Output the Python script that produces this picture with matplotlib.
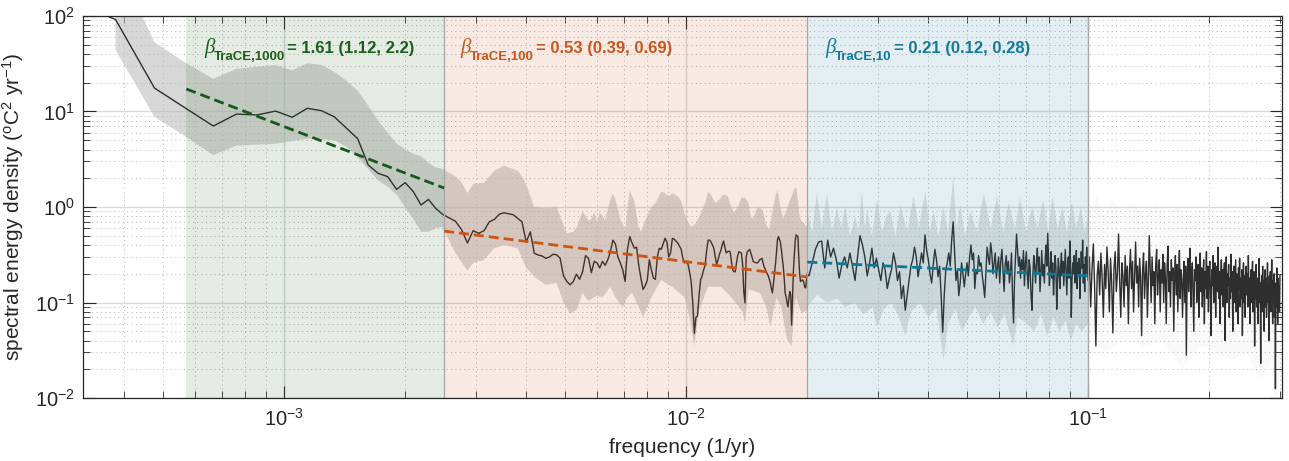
import numpy as np
import matplotlib
matplotlib.use("Agg")
import matplotlib.pyplot as plt
from matplotlib.ticker import LogLocator, NullFormatter

plt.rcParams['font.family'] = ['Liberation Sans', 'DejaVu Sans']
plt.rcParams['mathtext.fontset'] = 'custom'
plt.rcParams['mathtext.rm'] = 'Liberation Sans'
plt.rcParams['mathtext.it'] = 'Liberation Sans:italic'
plt.rcParams['mathtext.bf'] = 'Liberation Sans:bold'

# ---------------- data ----------------
N_YEARS = 10500          # record length -> frequency step 1/N_YEARS

# spectrum, frequency index k = 3 .. 210
psd_lo = [
    150, 92, 17.6, 10.7, 7.05, 9.4, 9.2, 10.1, 8.7, 10.8,
    10.2, 8.8, 6.7, 5.2, 2.75, 2.25, 2.08, 1.53, 1.8, 1.45,
    1.05, 1.2, 0.97, 0.84, 0.77, 0.71, 0.58, 0.42, 0.565, 0.53,
    0.565, 0.70, 0.74, 0.84, 0.87, 0.85, 0.83, 0.76, 0.70, 0.43,
    0.55, 0.327, 0.314, 0.307, 0.29, 0.30, 0.32, 0.316, 0.29, 0.19,
    0.166, 0.153, 0.166, 0.198, 0.175, 0.21, 0.31, 0.29, 0.205, 0.27,
    0.26, 0.23, 0.27, 0.245, 0.28, 0.34, 0.45, 0.41, 0.30, 0.26,
    0.22, 0.166, 0.36, 0.49, 0.42, 0.37, 0.38, 0.245, 0.18, 0.137,
    0.15, 0.17, 0.28, 0.22, 0.18, 0.175, 0.30, 0.37, 0.36, 0.41,
    0.47, 0.43, 0.30, 0.33, 0.47, 0.46, 0.44, 0.42, 0.39, 0.36,
    0.29, 0.259, 0.266, 0.255, 0.21, 0.166, 0.10, 0.0475, 0.07, 0.072,
    0.12, 0.172, 0.19, 0.22, 0.245, 0.35, 0.45, 0.45, 0.43, 0.40,
    0.37, 0.30, 0.25, 0.28, 0.32, 0.35, 0.40, 0.44, 0.38, 0.33,
    0.34, 0.345, 0.34, 0.27, 0.22, 0.21, 0.21, 0.26, 0.31, 0.34,
    0.335, 0.33, 0.25, 0.13, 0.099, 0.30, 0.34, 0.35, 0.36, 0.33,
    0.30, 0.27, 0.265, 0.262, 0.26, 0.26, 0.27, 0.28, 0.285, 0.29,
    0.26, 0.235, 0.225, 0.21, 0.20, 0.19, 0.175, 0.16, 0.14, 0.126,
    0.16, 0.20, 0.25, 0.33, 0.45, 0.49, 0.46, 0.43, 0.36, 0.29,
    0.24, 0.18, 0.125, 0.115, 0.10, 0.09, 0.11, 0.13, 0.12, 0.058,
    0.11, 0.22, 0.32, 0.45, 0.51, 0.50, 0.49, 0.30, 0.20, 0.166,
    0.17, 0.172, 0.17, 0.16, 0.145, 0.142, 0.17, 0.20,
]
K_LO_START = 3

# spectrum, k = 212 .. 1048 every 4th index
psd_blue = [
    0.19, 0.26, 0.36, 0.43, 0.44, 0.23, 0.45, 0.30, 0.37, 0.28,
    0.18, 0.25, 0.30, 0.23, 0.33, 0.24, 0.17, 0.30, 0.50, 0.40,
    0.30, 0.19, 0.26, 0.37, 0.23, 0.29, 0.22, 0.17, 0.26, 0.22,
    0.14, 0.18, 0.22, 0.33, 0.26, 0.17, 0.21, 0.11, 0.15, 0.083,
    0.12, 0.17, 0.24, 0.28, 0.38, 0.30, 0.186, 0.25, 0.33, 0.26,
    0.51, 0.35, 0.28, 0.20, 0.16, 0.25, 0.36, 0.28, 0.186, 0.24,
    0.118, 0.049, 0.12, 0.216, 0.26, 0.33, 0.24, 0.45, 0.70, 0.35,
    0.17, 0.22, 0.118, 0.16, 0.26, 0.20, 0.146, 0.20, 0.26, 0.19,
    0.30, 0.40, 0.28, 0.33, 0.14, 0.22, 0.20, 0.31, 0.24, 0.26,
    0.19, 0.15, 0.113, 0.21, 0.38, 0.30, 0.25, 0.42, 0.33, 0.20,
    0.26, 0.33, 0.18, 0.24, 0.30, 0.16, 0.28, 0.36, 0.22, 0.13,
    0.25, 0.31, 0.20, 0.27, 0.16, 0.21, 0.33, 0.12, 0.061, 0.18,
    0.30, 0.52, 0.36, 0.24, 0.30, 0.18, 0.28, 0.22, 0.35, 0.15,
    0.26, 0.34, 0.20, 0.14, 0.28, 0.23, 0.12, 0.083, 0.19, 0.31,
    0.24, 0.16, 0.27, 0.37, 0.21, 0.30, 0.13, 0.22, 0.35, 0.19,
    0.25, 0.16, 0.29, 0.40, 0.24, 0.53, 0.28, 0.15, 0.22, 0.34,
    0.18, 0.26, 0.12, 0.20, 0.31, 0.23, 0.085, 0.17, 0.29, 0.21,
    0.14, 0.25, 0.33, 0.19, 0.27, 0.15, 0.23, 0.36, 0.20, 0.12,
    0.24, 0.30, 0.18, 0.44, 0.27, 0.07, 0.17, 0.26, 0.20, 0.31,
    0.16, 0.22, 0.35, 0.14, 0.26, 0.19, 0.29, 0.11, 0.21, 0.34,
    0.23, 0.45, 0.16, 0.25, 0.13, 0.30, 0.20, 0.38, 0.24, 0.17,
]
K_BLUE_START, K_BLUE_STEP = 212, 4

# spectrum, k = 1056 .. 3144 every 8th index
psd_white = [
    0.30, 0.09, 0.22, 0.41, 0.15, 0.035, 0.19, 0.27, 0.12, 0.33,
    0.18, 0.07, 0.25, 0.14, 0.38, 0.21, 0.08, 0.29, 0.16, 0.048,
    0.23, 0.34, 0.13, 0.20, 0.52, 0.17, 0.07, 0.26, 0.19, 0.09,
    0.31, 0.15, 0.24, 0.06, 0.21, 0.36, 0.14, 0.27, 0.08, 0.19,
    0.43, 0.16, 0.24, 0.09, 0.29, 0.18, 0.045, 0.22, 0.33, 0.11,
    0.20, 0.27, 0.07, 0.17, 0.50, 0.23, 0.10, 0.30, 0.15, 0.21,
    0.06, 0.25, 0.36, 0.12, 0.19, 0.28, 0.08, 0.22, 0.16, 0.32,
    0.10, 0.26, 0.18, 0.06, 0.24, 0.39, 0.13, 0.21, 0.09, 0.28,
    0.17, 0.23, 0.05, 0.19, 0.31, 0.12, 0.25, 0.08, 0.20, 0.35,
    0.11, 0.22, 0.18, 0.07, 0.16, 0.27, 0.10, 0.24, 0.028, 0.19,
    0.29, 0.13, 0.21, 0.37, 0.09, 0.18, 0.26, 0.12, 0.05, 0.22,
    0.17, 0.30, 0.10, 0.20, 0.25, 0.07, 0.19, 0.33, 0.13, 0.23,
    0.09, 0.18, 0.28, 0.06, 0.21, 0.14, 0.34, 0.11, 0.24, 0.08,
    0.19, 0.27, 0.12, 0.045, 0.22, 0.15, 0.31, 0.10, 0.20, 0.26,
    0.07, 0.18, 0.24, 0.13, 0.38, 0.11, 0.21, 0.06, 0.17, 0.28,
    0.12, 0.22, 0.09, 0.19, 0.26, 0.04, 0.16, 0.30, 0.10, 0.20,
    0.15, 0.25, 0.07, 0.18, 0.11, 0.32, 0.13, 0.21, 0.05, 0.19,
    0.24, 0.10, 0.17, 0.28, 0.08, 0.20, 0.12, 0.06, 0.23, 0.14,
    0.29, 0.09, 0.18, 0.11, 0.22, 0.045, 0.15, 0.26, 0.10, 0.19,
    0.07, 0.17, 0.24, 0.12, 0.20, 0.09, 0.31, 0.11, 0.18, 0.06,
    0.16, 0.22, 0.10, 0.19, 0.27, 0.08, 0.15, 0.21, 0.035, 0.17,
    0.11, 0.25, 0.09, 0.18, 0.12, 0.06, 0.20, 0.29, 0.10, 0.16,
    0.023, 0.14, 0.19, 0.08, 0.24, 0.11, 0.17, 0.05, 0.15, 0.22,
    0.09, 0.18, 0.07, 0.14, 0.26, 0.10, 0.16, 0.04, 0.19, 0.11,
    0.21, 0.08, 0.15, 0.28, 0.10, 0.06, 0.17, 0.11, 0.20, 0.07,
    0.14, 0.0125, 0.16, 0.09, 0.23, 0.11, 0.06, 0.18, 0.10, 0.15,
    0.08, 0.19,
]
K_WHITE_START, K_WHITE_STEP = 1056, 8

# confidence band (frequency index k, value)
band_lo_upper_k = [4, 5, 6, 7, 8, 10, 11, 12, 13, 14, 15, 16, 17, 18, 19, 20, 21, 22, 23, 24,
                   25, 26, 28, 29, 30, 31, 33, 35, 37, 40, 41, 42, 43, 44, 47, 50, 51, 53, 55, 56,
                   58, 60, 61, 62, 63, 64, 66, 68, 69, 70, 72, 74, 76, 78, 80, 81, 83, 86, 88, 91,
                   93, 95, 97, 100, 102, 104, 106, 108, 110, 113, 117, 119, 121, 124, 127, 130, 133, 136, 138, 141,
                   144, 147, 150, 152, 154, 157, 160, 163, 166, 169, 172, 175, 177, 180, 183, 186, 189, 192, 195, 197,
                   199, 201, 203, 206, 208, 210]
band_lo_upper = [400, 53, 32, 22, 28, 30.7, 27, 32, 30.7, 26, 21, 16.5, 11.5, 8.0, 6.0, 4.6, 4.0, 3.6, 3.4, 2.9,
                 2.6, 2.5, 2.1, 1.8, 1.4, 1.75, 1.8, 2.4, 2.7, 2.4, 2.1, 1.7, 1.3, 1.0, 0.97, 1.0, 0.8, 0.53, 0.55, 0.60,
                 0.90, 0.72, 0.75, 0.88, 0.70, 0.88, 0.73, 1.2, 1.39, 1.2, 0.75, 0.58, 1.5, 1.15, 0.6, 0.55, 0.72, 1.0, 1.1, 1.45,
                 1.4, 1.3, 1.39, 1.3, 1.15, 0.85, 0.70, 0.62, 0.65, 0.78, 1.1, 1.45, 1.35, 1.1, 1.2, 1.35, 1.3, 1.0, 0.88, 1.0,
                 1.25, 1.25, 1.1, 0.8, 0.75, 0.95, 1.0, 0.9, 0.65, 0.58, 0.9, 1.3, 1.5, 1.0, 0.75, 0.9, 1.1, 1.3, 1.55, 1.6,
                 1.2, 0.8, 0.72, 0.68, 0.64, 0.62]
band_lo_lower_k = [4, 5, 6, 7, 8, 10, 11, 12, 13, 14, 15, 16, 17, 18, 19, 20, 21, 22, 23, 24,
                   25, 26, 28, 30, 31, 33, 35, 37, 40, 42, 44, 47, 50, 52, 54, 56, 58, 60, 63, 65,
                   68, 70, 73, 75, 77, 80, 82, 86, 91, 97, 104, 107, 110, 113, 119, 128, 136, 145, 147, 150,
                   160, 166, 170, 176, 181, 187, 192, 195, 197, 203, 210]
band_lo_lower = [44, 8.8, 5.4, 3.5, 4.4, 4.6, 4.9, 5.2, 5.1, 5.0, 4.3, 3.3, 2.5, 1.9, 1.63, 1.35, 1.0, 0.75, 0.55, 0.55,
                 0.6, 0.62, 0.33, 0.216, 0.26, 0.28, 0.37, 0.40, 0.37, 0.23, 0.186, 0.153, 0.16, 0.10, 0.077, 0.083, 0.126, 0.104, 0.118, 0.113,
                 0.146, 0.113, 0.09, 0.113, 0.126, 0.09, 0.07, 0.113, 0.172, 0.146, 0.113, 0.07, 0.035, 0.083, 0.146, 0.146, 0.113, 0.08, 0.06, 0.137,
                 0.126, 0.09, 0.056, 0.113, 0.09, 0.041, 0.035, 0.09, 0.113, 0.077, 0.083]

band_mid_upper_k = [210, 216, 222, 228, 235, 242, 249, 255, 261, 268, 276, 282, 287, 292, 296, 304, 313, 322, 330, 338,
                    348, 358, 372, 386, 398, 413, 423, 433, 445, 458, 470, 484, 494, 504, 518, 534, 555, 577, 600, 623,
                    645, 665, 690, 710, 735, 760, 785, 810, 835, 855, 880, 905, 930, 955, 980, 1005, 1030, 1050]
band_mid_upper = [0.9, 0.55, 1.4, 0.6, 1.4, 0.55, 1.0, 0.6, 1.05, 0.5, 0.8, 0.55, 1.5, 0.6, 0.95, 0.5, 1.2, 0.55, 0.8, 0.9,
                  0.5, 1.05, 0.55, 1.3, 0.6, 1.5, 0.55, 0.9, 0.5, 1.0, 0.55, 2.05, 0.6, 1.05, 0.5, 0.9, 0.55, 1.4, 0.6, 1.3,
                  0.55, 1.1, 0.6, 1.25, 0.55, 1.0, 0.6, 1.2, 0.55, 1.3, 0.6, 1.0, 0.55, 1.15, 0.6, 1.0, 0.55, 0.9]
band_mid_lower_k = [210, 222, 235, 249, 261, 275, 290, 305, 313, 325, 340, 355, 368, 380, 400, 420, 440, 458, 470, 490,
                    510, 530, 550, 575, 600, 625, 650, 683, 700, 740, 770, 800, 830, 860, 890, 920, 950, 980, 1010, 1050]
band_mid_lower = [0.09, 0.12, 0.10, 0.11, 0.09, 0.10, 0.075, 0.09, 0.055, 0.085, 0.10, 0.07, 0.045, 0.08, 0.10, 0.07, 0.09, 0.025, 0.06, 0.085,
                  0.05, 0.07, 0.09, 0.06, 0.08, 0.055, 0.075, 0.035, 0.07, 0.06, 0.05, 0.075, 0.045, 0.07, 0.05, 0.065, 0.04, 0.06, 0.05, 0.06]

band_hi_upper_k = [1050, 1100, 1150, 1200, 1280, 1350, 1450, 1550, 1650, 1750, 1850, 2000, 2150, 2300, 2500, 2700, 2900, 3150]
band_hi_upper = [0.9, 1.3, 0.8, 1.2, 0.85, 1.1, 0.8, 1.05, 0.75, 1.0, 0.8, 0.95, 0.7, 0.85, 0.65, 0.8, 0.6, 0.65]
band_hi_lower_k = [1050, 1150, 1300, 1450, 1600, 1800, 2000, 2200, 2400, 2600, 2816, 3000, 3064, 3150]
band_hi_lower = [0.05, 0.03, 0.04, 0.035, 0.04, 0.02, 0.035, 0.03, 0.025, 0.03, 0.015, 0.025, 0.008, 0.02]

# scaling regimes and power-law fits
region_edges = [6 / N_YEARS, 2.5e-3, 0.02, 0.1]
fit_green_f, fit_green_v = [6 / N_YEARS, 2.5e-3], [17.2, 1.58]
fit_orange_f, fit_orange_v = [2.5e-3, 0.02], [0.56, 0.185]
fit_blue_f, fit_blue_v = [0.02, 0.1], [0.265, 0.19]
labels_sub = ['TraCE,1000', 'TraCE,100', 'TraCE,10']
labels_rest = ['= 1.61 (1.12, 2.2)', '= 0.53 (0.39, 0.69)', '= 0.21 (0.12, 0.28)']

GREEN, ORANGE, BLUE = '#1a5e1a', '#c8561a', '#137a9a'
GREEN_D, ORANGE_D, BLUE_D = '#17581a', '#cc5510', '#0e7896'

# ---------------- figure ----------------
W, H = 1289, 461
fig = plt.figure(figsize=(W / 100, H / 100), dpi=100)
ax = fig.add_axes([83 / W, (H - 398) / H, (1282 - 83) / W, (398 - 16) / H])

k_lo = np.arange(K_LO_START, K_LO_START + len(psd_lo))
k_blue = K_BLUE_START + K_BLUE_STEP * np.arange(len(psd_blue))
k_white = K_WHITE_START + K_WHITE_STEP * np.arange(len(psd_white))
freq = np.concatenate([k_lo, k_blue, k_white]) / N_YEARS
psd = np.concatenate([psd_lo, psd_blue, psd_white])


def band(uk, uv, lk, lv, alpha):
    xs = np.concatenate([np.asarray(uk, float), np.asarray(lk, float)[::-1]]) / N_YEARS
    ys = np.concatenate([np.asarray(uv, float), np.asarray(lv, float)[::-1]])
    ax.fill(xs, ys, color='#bdbdbd', alpha=alpha, lw=0, zorder=1)


band(band_lo_upper_k, band_lo_upper, band_lo_lower_k, band_lo_lower, 0.6)
band(band_mid_upper_k, band_mid_upper, band_mid_lower_k, band_mid_lower, 0.42)
band(band_hi_upper_k, band_hi_upper, band_hi_lower_k, band_hi_lower, 0.08)

ax.plot(freq, psd, color='#2e2e2e', lw=1.0, zorder=2)

for (a, b), c in zip(zip(region_edges[:-1], region_edges[1:]), [GREEN, ORANGE, BLUE]):
    ax.axvspan(a, b, color=c, alpha=0.12, lw=0, zorder=3)
for xv in region_edges[1:]:
    ax.axvline(xv, color='#a6a6a6', lw=0.9, zorder=3.5)

dash = (0, (3.6, 1.8))
ax.plot(fit_green_f, fit_green_v, ls=dash, lw=2.0, color=GREEN_D, zorder=4)
ax.plot(fit_orange_f, fit_orange_v, ls=dash, lw=2.0, color=ORANGE_D, zorder=4)
ax.plot(fit_blue_f, fit_blue_v, ls=dash, lw=2.0, color=BLUE_D, zorder=4)

ax.set_xscale('log')
ax.set_yscale('log')
ax.set_xlim(10 ** -3.5, 0.303)
ax.set_ylim(1e-2, 1e2)

ax.xaxis.set_major_locator(LogLocator(base=10, numticks=20))
ax.xaxis.set_minor_locator(LogLocator(base=10, subs=np.arange(2, 10), numticks=20))
ax.yaxis.set_major_locator(LogLocator(base=10, numticks=20))
ax.yaxis.set_minor_locator(LogLocator(base=10, subs=np.arange(2, 10), numticks=20))
ax.xaxis.set_minor_formatter(NullFormatter())
ax.yaxis.set_minor_formatter(NullFormatter())

ax.set_axisbelow(True)
ax.grid(which='major', color='#d9d9d9', lw=1.0, ls='-')
ax.grid(which='minor', color='#b3b3b3', lw=0.7, ls=(0, (1, 3.5)))

ax.tick_params(which='both', direction='in', top=True, right=True, color='#262626', labelcolor='#262626')
ax.tick_params(which='major', length=9, width=0.8, labelsize=14.5)
ax.tick_params(axis='x', which='major', pad=7)
ax.tick_params(axis='y', which='major', pad=6)
ax.tick_params(which='minor', length=4.8, width=0.6)
for s in ax.spines.values():
    s.set_color('#262626')
    s.set_linewidth(0.9)
    s.set_zorder(6)

ax.set_xlabel('frequency (1/yr)', fontsize=15, color='#262626', labelpad=6)
ax.set_ylabel(r'spectral energy density ($^{\rm o}$C$^{2}$ yr$^{-1}$)', fontsize=15, color='#262626', labelpad=6)

# regime labels
fig.canvas.draw()
renderer = fig.canvas.get_renderer()
label_x = [6.33e-4, 2.74e-3, 0.0222]
label_y = 41.0
for x, sub, rest, c in zip(label_x, labels_sub, labels_rest, [GREEN, ORANGE, BLUE]):
    t1 = ax.text(x, label_y, '\u03b2', fontsize=15, fontstyle='italic', family='Liberation Serif',
                 color=c, zorder=7)
    w1 = t1.get_window_extent(renderer).width * 72 / fig.dpi
    t2 = ax.annotate(sub, (x, label_y), xytext=(w1 - 0.5, -5), textcoords='offset points',
                     fontsize=9.5, fontweight='bold', color=c, zorder=7)
    w2 = t2.get_window_extent(renderer).width * 72 / fig.dpi
    ax.annotate(rest, (x, label_y), xytext=(w1 - 0.5 + w2 + 1.5, 0), textcoords='offset points',
                fontsize=12, fontweight='bold', color=c, zorder=7)

fig.savefig('out.png', dpi=100)
